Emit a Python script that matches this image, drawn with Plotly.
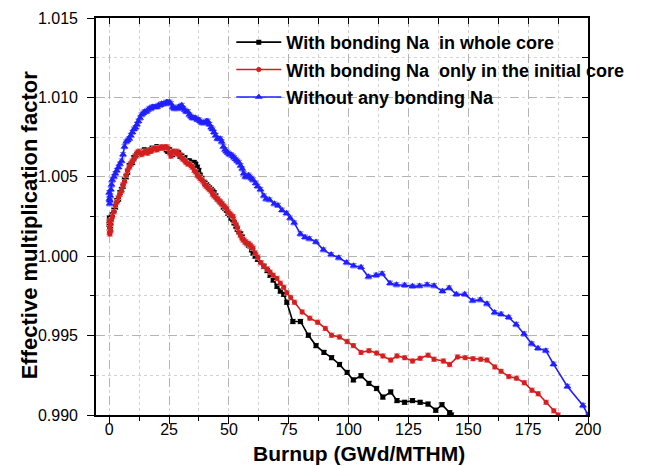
import plotly.graph_objects as go

# ---------------- data ----------------
x_early = [0, 0.1, 0.2, 0.3, 0.5, 0.7, 1.0, 1.3, 2.0, 2.6, 3.2, 3.9, 4.5, 5.2, 5.8, 6.4, 7.1, 7.7, 8.4, 9.0,
           9.7, 10.3, 11.0, 11.6, 12.2, 12.9, 13.5, 14.2, 14.8, 15.5, 16.1, 16.8, 17.4, 18.0, 18.7, 19.3, 20.0,
           20.6, 21.3, 21.9, 22.6, 23.2, 23.9, 24.5, 25.2, 25.8, 26.5, 27.1, 27.7, 28.4, 29.0, 29.6, 30.3, 30.9,
           31.6, 32.2, 32.9, 33.5, 34.2, 34.8, 35.5, 36.1, 36.8, 37.4, 38.0, 38.7, 39.4, 40.0, 40.6, 41.2, 41.9,
           42.6, 43.2, 43.8, 44.5, 45.2, 45.8, 46.4, 47.0, 47.7, 48.4, 49.0, 49.6, 50.3, 50.9, 51.7, 52.2, 52.9,
           53.5, 54.2, 54.9, 55.6, 56.2, 56.9, 57.5, 58.2, 58.8, 59.5, 60.1]

black_x_late = [61.0, 62.0, 63.3, 64.6, 66.0, 67.2, 68.5, 70.1, 71.5, 72.9, 74.2, 76.7, 79.9, 83.2, 86.4, 89.7,
                92.9, 96.2, 99.4, 102.0, 105.2, 108.5, 111.7, 114.3, 117.6, 120.2, 123.4, 126.7, 129.9, 133.2,
                136.4, 139.0, 142.2, 142.9]
black_y = [1.0020, 1.0024, 1.0018, 1.0022, 1.0017, 1.0021, 1.0025, 1.0026, 1.0029, 1.0031, 1.0035, 1.0036,
           1.0040, 1.0042, 1.0044, 1.0048, 1.0050, 1.0053, 1.0057, 1.0058, 1.0059, 1.0062, 1.0063, 1.0064,
           1.0064, 1.0066, 1.0065, 1.0066, 1.0067, 1.0065, 1.0066, 1.0066, 1.0067, 1.0068, 1.0067, 1.0068,
           1.0069, 1.0068, 1.0069, 1.0068, 1.0069, 1.0068, 1.0067, 1.0066, 1.0067, 1.0066, 1.0064, 1.0065,
           1.0066, 1.0065, 1.0065, 1.0063, 1.0063, 1.0062, 1.0062, 1.0060, 1.0060, 1.0060, 1.0059, 1.0059,
           1.0059, 1.0058, 1.0056, 1.0054, 1.0051, 1.0049, 1.0047, 1.0046, 1.0045, 1.0044, 1.0043, 1.0042,
           1.0041, 1.0040, 1.0038, 1.0036, 1.0035, 1.0034, 1.0033, 1.0031, 1.0030, 1.0029, 1.0027, 1.0026,
           1.0024, 1.0023, 1.0021, 1.0019, 1.0017, 1.0015, 1.0014, 1.0012, 1.0010, 1.0009, 1.0008, 1.0007,
           1.00065, 1.0004, 1.0002,
           1.0000, 0.9998, 0.9996, 0.99935, 0.9991, 0.9988, 0.9985, 0.9981, 0.9978, 0.9976, 0.9971, 0.99589,
           0.99589, 0.99502, 0.99437, 0.99394, 0.99361, 0.99318, 0.99268, 0.99221, 0.99247, 0.99199, 0.99167,
           0.99113, 0.99145, 0.99091, 0.99080, 0.99091, 0.99080, 0.99069, 0.99030, 0.99065, 0.99015, 0.9900]

red_x_late = [61.0, 62.0, 63.3, 64.6, 66.0, 67.2, 68.5, 70.1, 71.5, 72.9, 74.2, 75.8, 77.4, 80.6, 83.8, 87.1,
              90.3, 92.9, 96.2, 99.4, 102.0, 105.2, 108.5, 111.7, 114.3, 117.6, 120.2, 123.4, 126.7, 129.9,
              133.2, 135.7, 139.6, 142.2, 145.5, 148.7, 152.0, 155.2, 157.8, 161.1, 163.7, 166.9, 170.1,
              173.4, 176.6, 179.2, 182.5, 185.7, 187.5]
red_y = [1.0022, 1.0015, 1.0018, 1.0014, 1.0020, 1.0016, 1.0023, 1.0025, 1.0028, 1.0032, 1.0034, 1.0037,
         1.0039, 1.0041, 1.0045, 1.0047, 1.0051, 1.0054, 1.0056, 1.0058, 1.0060, 1.0061, 1.0063, 1.0065,
         1.0066, 1.0065, 1.0064, 1.0065, 1.0066, 1.0066, 1.0065, 1.0067, 1.0066, 1.0067, 1.0068, 1.0068,
         1.0067, 1.0068, 1.0068, 1.0069, 1.0068, 1.0069, 1.0069, 1.0068, 1.0065, 1.0063, 1.0066, 1.0066,
         1.0065, 1.0066, 1.0064, 1.0064, 1.0062, 1.0061, 1.0060, 1.0059, 1.0058, 1.0058, 1.0057, 1.0056,
         1.0054, 1.0053, 1.0051, 1.0050, 1.0049, 1.0048, 1.0047, 1.0045, 1.0044, 1.0043, 1.0042, 1.0041,
         1.0039, 1.0038, 1.0037, 1.0036, 1.0035, 1.0034, 1.0033, 1.0032, 1.0031, 1.0030, 1.0028, 1.0027,
         1.0026, 1.0025, 1.0022, 1.0020, 1.0018, 1.0015, 1.0013, 1.0011, 1.0010, 1.0009, 1.0008, 1.0008,
         1.0007, 1.0006, 1.0005,
         1.0002, 0.99995, 0.9996, 0.9994, 0.9992, 0.9990, 0.9988, 0.9986, 0.9983, 0.99805, 0.9977, 0.9974,
         0.9971, 0.99649, 0.99610, 0.99584, 0.99545, 0.99502, 0.99491, 0.99463, 0.99437, 0.99394, 0.99405,
         0.99390, 0.99372, 0.99346, 0.99372, 0.99361, 0.99340, 0.99357, 0.99377, 0.99351, 0.99340, 0.99318,
         0.99366, 0.99361, 0.99355, 0.99351, 0.99346, 0.99303, 0.99275, 0.99242, 0.99232, 0.99203, 0.99156,
         0.99134, 0.99080, 0.99026, 0.9900]

blue_x_late = [61.2, 62.0, 63.2, 64.6, 65.6, 67.0, 69.0, 70.5, 72.2, 74.1, 75.6, 77.3, 79.9, 81.8, 83.6, 86.4,
               89.5, 92.7, 95.9, 99.2, 102.1, 105.2, 108.3, 111.5, 114.0, 117.3, 120.0, 123.4, 126.7, 129.6,
               132.8, 135.7, 139.2, 142.0, 145.0, 148.5, 151.8, 155.0, 157.8, 161.0, 163.7, 166.9, 170.0,
               173.3, 176.5, 179.1, 182.4, 185.6, 191.4, 197.9, 200.0]
blue_y = [1.0040, 1.0036, 1.0033, 1.0035, 1.0038, 1.0042, 1.0045, 1.0048, 1.0050, 1.0052, 1.0054, 1.0056,
          1.0058, 1.0060, 1.0064, 1.0069, 1.0072, 1.0073, 1.0074, 1.0076, 1.0078, 1.0080, 1.0081, 1.0083,
          1.0085, 1.0087, 1.0089, 1.0090, 1.0091, 1.0091, 1.0092, 1.0093, 1.0093, 1.0094, 1.0094, 1.0094,
          1.0094, 1.0095, 1.0095, 1.0096, 1.0096, 1.0096, 1.0097, 1.0097, 1.0097, 1.0096, 1.0094, 1.0093,
          1.0093, 1.0093, 1.0094, 1.0094, 1.0095, 1.0093, 1.0092, 1.0091, 1.0091, 1.0089, 1.0088, 1.0087,
          1.0087, 1.0087, 1.0086, 1.0086, 1.0085, 1.0084, 1.0084, 1.0084, 1.0085, 1.0085, 1.0083, 1.0081,
          1.0080, 1.0078, 1.0076, 1.0074, 1.0074, 1.0074, 1.0072, 1.0069, 1.0067, 1.0066, 1.0065, 1.0064,
          1.0064, 1.0063, 1.0062, 1.0061, 1.0060, 1.0059, 1.0057, 1.0055, 1.0052, 1.0050, 1.0050, 1.0051,
          1.0050, 1.0049, 1.0048,
          1.0046, 1.0044, 1.0042, 1.0038, 1.0036, 1.00355, 1.0033, 1.0032, 1.0029, 1.0027, 1.0024, 1.0021,
          1.0014, 1.0012, 1.0011, 1.0009, 1.0004, 1.0001, 0.9999, 0.9996, 0.9994, 0.9993, 0.9987, 0.9988,
          0.9989, 0.9983, 0.9982, 0.99817, 0.9981, 0.99813, 0.9982, 0.99814, 0.9978, 0.9980, 0.9976,
          0.9976, 0.9972, 0.99725, 0.9970, 0.99645, 0.99635, 0.99615, 0.9957, 0.9951, 0.99448, 0.9942,
          0.99405, 0.9932, 0.9918, 0.9906, 0.9900]

black_x = x_early + black_x_late
red_x = x_early + red_x_late
blue_x = x_early + blue_x_late

err_k = 0.00013  # size of the small error bars

names = ["With bonding Na  in whole core",
         "With bonding Na  only in the initial core",
         "Without any bonding Na"]
x_title = "Burnup (GWd/MTHM)"
y_title = "Effective multiplication factor"

x_ticks = [0, 25, 50, 75, 100, 125, 150, 175, 200]
y_ticks = [0.990, 0.995, 1.000, 1.005, 1.010, 1.015]

# ---------------- figure ----------------
FONT = "Liberation Sans"
fig = go.Figure()

series = [
    (black_x, black_y, names[0], "#000000", "#8c8c8c", "square", 5),
    (red_x, red_y, names[1], "#d21f1f", "#f08c8c", "circle", 5),
    (blue_x, blue_y, names[2], "#1f1fff", "#8c8cff", "triangle-up", 7),
]
for i, (xs, ys, nm, col, ecol, sym, msz) in enumerate(series):
    fig.add_trace(go.Scatter(
        x=xs, y=ys, name=nm, mode="lines+markers", legendgroup=f"g{i}",
        line=dict(color=col, width=1.6),
        marker=dict(color=col, symbol=sym, size=msz, line=dict(width=0)),
        error_y=dict(type="constant", value=err_k, color=ecol, thickness=1.2, width=3),
    ))

# helper trace for the mirrored (inward) ticks on top/right
fig.add_trace(go.Scatter(x=[], y=[], xaxis="x2", yaxis="y2", showlegend=False, hoverinfo="skip"))

grid_major = "#b4b4b4"
grid_minor = "#d2d2d2"

fig.update_layout(
    width=649, height=466,
    margin=dict(l=96, r=61, t=18, b=51),
    paper_bgcolor="white", plot_bgcolor="white",
    font=dict(family=FONT, color="black", size=16),
    showlegend=True,
    legend=dict(x=0.275, y=0.985, xanchor="left", yanchor="top",
                bgcolor="rgba(0,0,0,0)", borderwidth=0,
                font=dict(family=FONT, size=18, color="black", weight="bold"),
                tracegroupgap=1, itemwidth=45),
    xaxis=dict(
        range=[-5.5, 200], tickmode="array", tickvals=x_ticks, ticktext=[str(v) for v in x_ticks],
        ticks="outside", ticklen=7, tickwidth=1.3, tickcolor="black",
        showline=True, linecolor="black", linewidth=1.6, mirror=True,
        showgrid=True, gridcolor=grid_major, griddash="dash", gridwidth=1,
        zeroline=False, automargin=False, ticklabelstandoff=-8,
        minor=dict(dtick=12.5, tick0=0, ticks="outside", ticklen=4, tickcolor="black",
                   showgrid=True, gridcolor=grid_minor, griddash="dot", gridwidth=1),
        tickfont=dict(family=FONT, size=16),
    ),
    yaxis=dict(
        range=[0.990, 1.015], tickmode="array", tickvals=y_ticks, ticktext=[f"{v:.3f}" for v in y_ticks],
        ticks="outside", ticklen=7, tickwidth=1.3, tickcolor="black",
        showline=True, linecolor="black", linewidth=1.6, mirror=True,
        showgrid=True, gridcolor=grid_major, griddash="dash", gridwidth=1,
        zeroline=False, automargin=False, ticklabelstandoff=6,
        minor=dict(dtick=0.0025, tick0=0.990, ticks="outside", ticklen=4, tickcolor="black",
                   showgrid=True, gridcolor=grid_minor, griddash="dot", gridwidth=1),
        tickfont=dict(family=FONT, size=16),
    ),
    xaxis2=dict(overlaying="x", side="top", range=[-5.5, 200], dtick=12.5, tick0=0,
                ticks="inside", ticklen=6, tickcolor="black", tickwidth=1.2, automargin=False,
                showticklabels=False, showgrid=False, showline=False, zeroline=False),
    yaxis2=dict(overlaying="y", side="right", range=[0.990, 1.015], dtick=0.0025, tick0=0.990,
                ticks="inside", ticklen=6, tickcolor="black", tickwidth=1.2, automargin=False,
                showticklabels=False, showgrid=False, showline=False, zeroline=False),
    annotations=[
        dict(text=x_title, xref="paper", yref="paper", x=0.535, y=-0.096, xanchor="center",
             yanchor="middle", showarrow=False, font=dict(family=FONT, size=21, weight="bold")),
        dict(text=y_title, xref="paper", yref="paper", x=-0.136, y=0.478, xanchor="center",
             yanchor="middle", textangle=-90, showarrow=False,
             font=dict(family=FONT, size=22, weight="bold")),
    ],
)

fig.write_html("out.html")
